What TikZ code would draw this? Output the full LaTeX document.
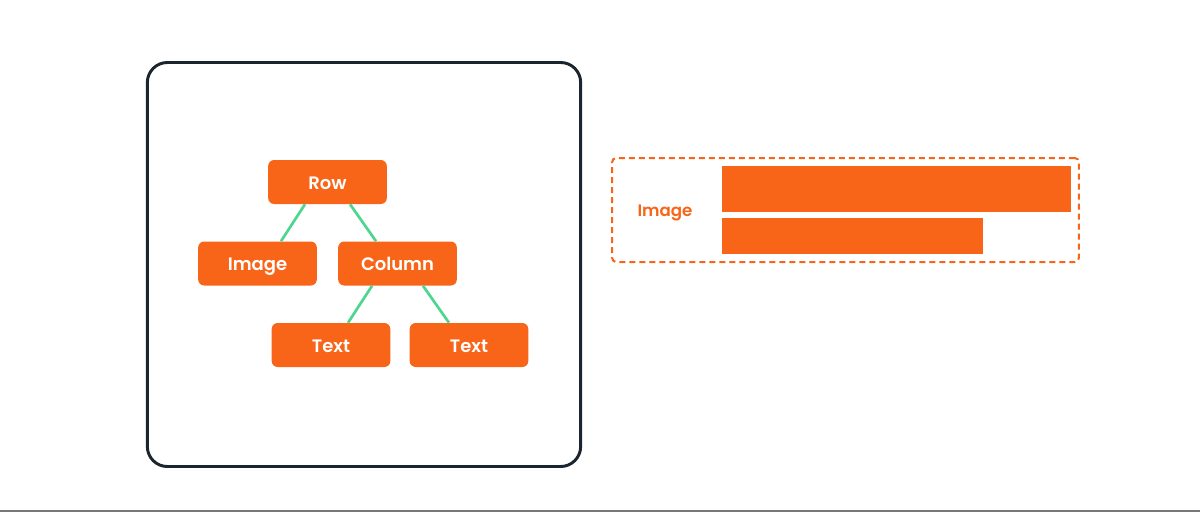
\documentclass[tikz,border=0pt]{standalone}
\usepackage{fontspec}
\setmainfont{Poppins}
\newfontfamily\medfont{Poppins}[UprightFont=* SemiBold]
\definecolor{orng}{HTML}{F96518}
\definecolor{grn}{HTML}{4CD68E}
\definecolor{navy}{HTML}{1A2530}
\definecolor{gry}{HTML}{777777}
\begin{document}
\begin{tikzpicture}[x=0.75pt,y=-0.75pt,
  treenode/.style={fill=orng, rounded corners=4.5pt, minimum width=89pt, minimum height=33pt,
    inner sep=0pt, text=white, text height=11pt, text depth=0pt, font=\medfont\fontsize{13.5}{15}\selectfont},
  link/.style={grn, line width=2pt},
  bar/.style={fill=orng, draw=none}]
\useasboundingbox (0,0) rectangle (1200,512);
\fill[white] (0,0) rectangle (1200,512);
\draw[gry, line width=1pt] (0,511) -- (1200,511);
% outer frame
\node[draw=navy, line width=2.2pt, rounded corners=15pt, minimum width=325pt, minimum height=303pt, inner sep=0pt] (frame) at (364,264.5) {};
% tree
\node[treenode] (row) at (327.5,182) {Row};
\node[treenode] (img) at (257.5,263.5) {Image};
\node[treenode] (col) at (397.5,263.5) {Column};
\node[treenode] (t1) at (331,345) {Text};
\node[treenode] (t2) at (469,345) {Text};
\draw[link] ([xshift=-16.9pt]row.south) -- ([xshift=17.6pt]img.north);
\draw[link] ([xshift=16.9pt]row.south) -- ([xshift=-16.1pt]col.north);
\draw[link] ([xshift=-19.1pt]col.south) -- ([xshift=12.8pt]t1.north);
\draw[link] ([xshift=19.1pt]col.south) -- ([xshift=-15pt]t2.north);
% right preview
\node[draw=orng, dashed, dash pattern=on 4.5pt off 3pt, line width=1.5pt, rounded corners=3pt, minimum width=350pt, minimum height=78pt, inner sep=0pt] (box) at (845.5,210) {};
\node[text=orng, text height=10pt, text depth=0pt, inner sep=0pt, font=\medfont\fontsize{12.5}{14}\selectfont] (lbl) at (665,210) {Image};
\path[bar] (722,166) rectangle (1071,212);
\path[bar] (722,218) rectangle (983,254);
\end{tikzpicture}
\end{document}
